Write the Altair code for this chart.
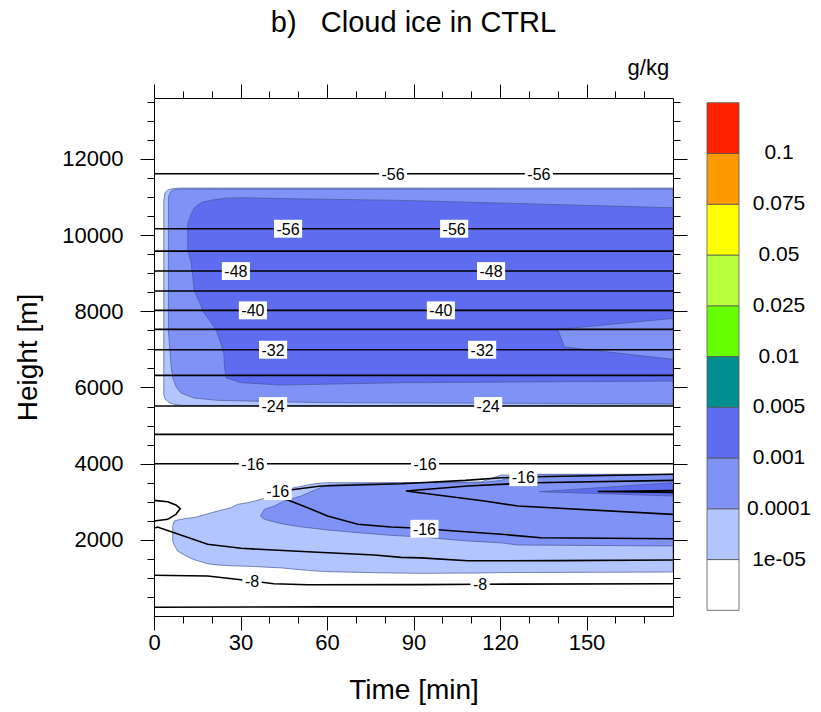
import altair as alt
import pandas as pd

FONT = "Liberation Sans"

# ---------------- cloud ice shading (time [min], lower height [m], upper height [m]) ----------
# upper cloud, >= 1e-05 g/kg
u1_t = [3.4, 3.8, 4.7, 5.3, 7.1, 9.4, 60, 120, 180]
u1_lo = [5819, 5700, 5644, 5600, 5556, 5530, 5520, 5525, 5540]
u1_hi = [10894, 11112, 11180, 11200, 11226, 11235, 11235, 11235, 11235]
# upper cloud, >= 1e-04 g/kg
u2_t = [5.0, 5.9, 6.5, 7.8, 9.4, 13.9, 22.0, 60, 180]
u2_lo = [7500, 6600, 6256, 6000, 5854, 5723, 5662, 5600, 5573]
u2_hi = [11000, 11156, 11180, 11200, 11205, 11208, 11210, 11210, 11209]
# upper cloud, >= 1e-03 g/kg
u3_t = [11.7, 12.8, 14.0, 16.3, 16.9, 21.5, 23.0, 24.2, 24.5, 25.0, 30.2, 44.0, 85.7, 180]
u3_lo = [9600, 9319, 8531, 8150, 8006, 7525, 7200, 6900, 6500, 6256, 6125, 6064, 6125, 6169]
u3_hi = [10300, 10544, 10720, 10849, 10870, 10940, 10945, 10960, 10965, 10970, 10981, 10960, 10912, 10718]
# weaker tongue inside the upper cloud (back to >= 1e-04)
w_t = [140, 142.4, 180]
w_lo = [7525, 7061, 6738]
w_hi = [7525, 7542, 7814]
# lower cloud, >= 1e-05 g/kg
l1_t = [6.5, 7.1, 8.2, 10.6, 12.8, 14.7, 18.7, 22.2, 26.7, 29.0, 32.5, 36.0, 40.6, 44.0,
        48.6, 53.3, 56.7, 60.2, 76.5, 92.6, 113.4, 120.4, 180]
l1_lo = [1969, 1850, 1706, 1600, 1512, 1460, 1371, 1340, 1320, 1314, 1305, 1295, 1275, 1265,
         1230, 1199, 1180, 1165, 1137, 1120, 1130, 1140, 1155]
l1_hi = [2363, 2494, 2520, 2556, 2575, 2598, 2686, 2756, 2844, 2931, 2974, 3037, 3150, 3281,
         3369, 3439, 3483, 3500, 3500, 3500, 3520, 3700, 3720]
# lower cloud, >= 1e-04 g/kg
l2_t = [36.9, 38.3, 41.7, 45.2, 51.0, 55.6, 60.2, 70.7, 82.2, 92.6, 108.8, 113.4, 120.4, 126.2, 180]
l2_lo = [2625, 2538, 2470, 2410, 2340, 2300, 2260, 2187, 2118, 2075, 1969, 1950, 1920, 1864, 1838]
l2_hi = [2625, 2800, 2888, 3019, 3150, 3299, 3439, 3470, 3490, 3500, 3500, 3500, 3560, 3720, 3720]
# lower cloud, >= 1e-03 g/kg
l3_t = [133.7, 180]
l3_lo = [3264, 3150]
l3_hi = [3264, 3500]

# ---------------- temperature contours [deg C] ----------------
flat_h = [11611, 10168, 9581, 9056, 8531, 8024, 7525, 6991, 6318, 5513, 4769, 3998]
cA_t = [180, 127.9, 120.4, 108.0, 85.7, 57.9, 46.4, 42.9, 45.8, 53.3, 60.2, 70.7, 82.2, 92.6,
        100.7, 120.4, 134.2, 180]
cA_h = [3720, 3649, 3630, 3560, 3473, 3413, 3300, 3281, 3063, 2843, 2625, 2407, 2336, 2302,
        2250, 2145, 2055, 2029]
cD_t = [180, 131.9, 108.8, 87.4, 114.6, 126.2, 180]
cD_h = [3562, 3500, 3413, 3281, 3019, 2888, 2669]
cE_t = [180, 153.9, 180]
cE_h = [3295, 3270, 3245]
cC_t = [0, 1.2, 7.0, 18.6, 30.2, 53.3, 76.4, 85.7, 92.6, 108.8, 140, 180]
cC_h = [2302, 2336, 2187, 1882, 1777, 1688, 1600, 1540, 1525, 1450, 1455, 1470]
cF_t = [0, 4.75, 7.6, 9.1, 7.6, 4.75, 0]
cF_h = [3037, 3001, 2914, 2817, 2669, 2538, 2494]
cG_t = [0, 18.6, 34.0, 41.6, 53.3, 92.6, 113.1, 180]
cG_h = [1068, 1050, 919, 848, 820, 825, 835, 845]
cH_t = [0, 60, 180]
cH_h = [230, 240, 240]

lab_txt = ["-56", "-56", "-56", "-56", "-48", "-48", "-40", "-40", "-32", "-32", "-24", "-24",
           "-16", "-16", "-16", "-16", "-16", "-8", "-8"]
lab_t = [82.9, 133.5, 46.5, 104.1, 28.4, 116.9, 34.3, 99.5, 41.3, 113.8, 41.3, 115.9,
         34.3, 94.0, 42.9, 128.1, 93.8, 34.0, 113.1]
lab_h = [11611, 11611, 10168, 10168, 9056, 9056, 8024, 8024, 6991, 6991, 5513, 5513,
         3998, 3998, 3281, 3645, 2290, 919, 832]

# ---------------- colour bar ----------------
cb_colors = ["#ffffff", "#b3c5fe", "#7f93f6", "#5e6cf0", "#008e8e",
             "#66ff00", "#b8ff3c", "#ffff00", "#ff9900", "#ff2200"]
cb_labels = ["1e-05", "0.0001", "0.001", "0.005", "0.01", "0.025", "0.05", "0.075", "0.1"]

x_ticks = list(range(0, 180, 10))
y_ticks = list(range(500, 13600, 500))

# ---------------- tables ----------------
fill_rows = []
for lvl, part, ts, los, his in [(1, "upper", u1_t, u1_lo, u1_hi), (1, "lower", l1_t, l1_lo, l1_hi),
                                (2, "upper", u2_t, u2_lo, u2_hi), (2, "lower", l2_t, l2_lo, l2_hi),
                                (3, "upper", u3_t, u3_lo, u3_hi), (3, "lower", l3_t, l3_lo, l3_hi),
                                (4, "tongue", w_t, w_lo, w_hi)]:
    for t, lo, hi in zip(ts, los, his):
        fill_rows.append({"level": lvl, "part": part, "t": t, "lo": lo, "hi": hi})
fill_df = pd.DataFrame(fill_rows)

line_rows = []
for i, h in enumerate(flat_h):
    line_rows.append({"id": f"f{i}", "o": 0, "t": 0, "h": h})
    line_rows.append({"id": f"f{i}", "o": 1, "t": 180, "h": h})
for name, ts, hs in [("A", cA_t, cA_h), ("D", cD_t, cD_h), ("E", cE_t, cE_h), ("C", cC_t, cC_h),
                     ("F", cF_t, cF_h), ("G", cG_t, cG_h), ("H", cH_t, cH_h)]:
    for k, (t, h) in enumerate(zip(ts, hs)):
        line_rows.append({"id": name, "o": k, "t": t, "h": h})
line_df = pd.DataFrame(line_rows)

lab_df = pd.DataFrame({"txt": lab_txt, "t": lab_t, "h": lab_h})

x_scale = alt.Scale(domain=[0, 180], nice=False, zero=False)
y_scale = alt.Scale(domain=[0, 13600], nice=False, zero=False)

axis_style = dict(domain=False, grid=False, tickColor="black", tickWidth=1,
                  labelFont=FONT, labelFontSize=22, labelColor="black",
                  titleFont=FONT, titleFontSize=28, titleFontWeight="normal", titleColor="black",
                  labelOverlap=False, labelFlush=False)
x_tick_size = {"expr": "datum.value % 30 === 0 ? 14 : 7"}
y_tick_size = {"expr": "datum.value % 2000 === 0 ? 14 : 7"}

x_bottom = alt.Axis(orient="bottom", values=x_ticks, tickSize=x_tick_size,
                    labelExpr="datum.value % 30 === 0 ? '' + datum.value : ''",
                    labelPadding=2, title="Time [min]", titlePadding=23, **axis_style)
y_left = alt.Axis(orient="left", values=y_ticks, tickSize=y_tick_size,
                  labelExpr="datum.value % 2000 === 0 ? '' + datum.value : ''",
                  labelPadding=17, title="Height [m]", titlePadding=19, **axis_style)
x_top = alt.Axis(orient="top", values=x_ticks, tickSize=x_tick_size, labels=False, title=None,
                 **axis_style)
y_right = alt.Axis(orient="right", values=y_ticks, tickSize=y_tick_size, labels=False, title=None,
                   **axis_style)

LEVEL_COLORS = {1: "#b3c5fe", 2: "#7f93f6", 3: "#5e6cf0", 4: "#7f93f6"}


def fill_layer(level, with_axes=False):
    xenc = alt.X("t:Q", scale=x_scale, axis=x_bottom if with_axes else None)
    yenc = alt.Y("lo:Q", scale=y_scale, axis=y_left if with_axes else None)
    return alt.Chart(fill_df).transform_filter(alt.datum.level == level).mark_area(
        color=LEVEL_COLORS[level], stroke="#4b5699", strokeWidth=0.7, clip=True
    ).encode(x=xenc, y=yenc, y2="hi:Q", detail="part:N")


lines = alt.Chart(line_df).mark_line(color="black", strokeWidth=1.6, clip=True).encode(
    x=alt.X("t:Q", scale=x_scale, axis=x_top),
    y=alt.Y("h:Q", scale=y_scale, axis=y_right),
    detail="id:N",
    order="o:Q",
)

boxes = alt.Chart(lab_df).transform_calculate(
    hw="(5 + 16 * (0.333 + 0.556 * (length(datum.txt) - 1))) / 2 / 2.883",
    x1="datum.t - datum.hw", x2="datum.t + datum.hw",
    y1="datum.h - 235", y2="datum.h + 235",
).mark_rect(color="white", clip=True).encode(
    x=alt.X("x1:Q", scale=x_scale, axis=None), x2="x2:Q",
    y=alt.Y("y1:Q", scale=y_scale, axis=None), y2="y2:Q",
)

texts = alt.Chart(lab_df).mark_text(font=FONT, fontSize=16, color="black",
                                    align="center", baseline="middle", dy=1).encode(
    x=alt.X("t:Q", scale=x_scale, axis=None),
    y=alt.Y("h:Q", scale=y_scale, axis=None),
    text="txt:N",
)

main = alt.layer(
    fill_layer(1, True), fill_layer(2), fill_layer(3), fill_layer(4), lines, boxes, texts
).resolve_axis(x="independent", y="independent").properties(
    width=519, height=518,
    title=alt.Title("b)\u00a0\u00a0\u00a0Cloud ice in CTRL", font=FONT, fontSize=29,
                    fontWeight="normal", color="black", anchor="middle", frame="group",
                    baseline="alphabetic", offset=23),
)

cb_df = pd.DataFrame({"lo": list(range(10)), "hi": list(range(1, 11)), "c": cb_colors})
cbl_df = pd.DataFrame({"pos": list(range(1, 10)), "txt": cb_labels})
cb_y = alt.Scale(domain=[-0.112, 10.093], nice=False, zero=False)

cb_boxes = alt.Chart(cb_df).mark_rect(stroke="#555555", strokeWidth=0.8).encode(
    x=alt.value(0), x2=alt.value(32),
    y=alt.Y("lo:Q", scale=cb_y, axis=None), y2="hi:Q",
    color=alt.Color("c:N", scale=None),
)
cb_text = alt.Chart(cbl_df).mark_text(font=FONT, fontSize=21, color="black",
                                      align="center", baseline="middle").encode(
    x=alt.value(72), y=alt.Y("pos:Q", scale=cb_y, axis=None), text="txt:N",
)
cbar = alt.layer(cb_boxes, cb_text).properties(
    width=100, height=518,
    view=alt.ViewBackground(strokeOpacity=0),
    title=alt.Title("g/kg", font=FONT, fontSize=22, fontWeight="normal", color="black",
                    anchor="start", dx=-79, baseline="alphabetic", offset=1),
)

chart = alt.hconcat(main, cbar, spacing=34, bounds="flush").properties(
    padding={"left": 14, "top": 8, "right": 5, "bottom": 5},
    background="white",
).configure_view(stroke="black", strokeWidth=1)

chart.save("out.html", embed_options={"renderer": "svg", "actions": False})
